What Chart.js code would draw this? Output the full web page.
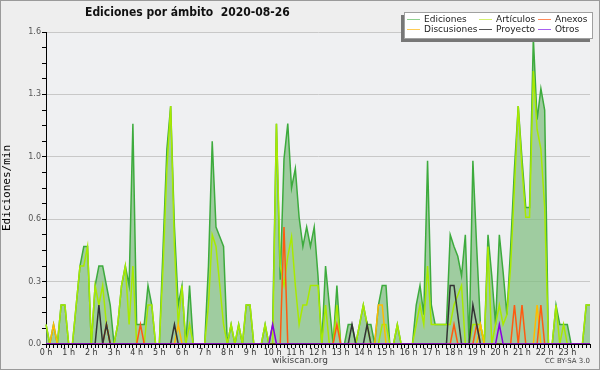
<!DOCTYPE html>
<html>
<head>
<meta charset="utf-8">
<script src="https://cdn.jsdelivr.net/npm/chart.js@4.4.1/dist/chart.umd.min.js"></script>
<style>
  body { margin: 0; background: #eeeeee; }
  #wrap { position: relative; width: 600px; height: 370px; background: #eeeeee; overflow: hidden; }
  #chart { position: absolute; left: 0; top: 0; }
  #frame { position: absolute; left: 0; top: 0; width: 600px; height: 370px; box-sizing: border-box; border: 1px solid #9a9a9a; pointer-events: none; }
  #title { position: absolute; left: 85px; top: 5px; font: bold 12px 'DejaVu Sans Condensed', 'DejaVu Sans', sans-serif; font-stretch: condensed; color: #111; white-space: pre; }
  #legend { position: absolute; left: 404px; top: 12px; width: 189px; height: 27px; box-sizing: border-box; background: #fff; border: 1px solid #a0a0a0; box-shadow: -3px 3px 0 #777; font: 9px 'DejaVu Sans', sans-serif; color: #222; }
  .item { position: absolute; height: 10px; line-height: 10px; white-space: nowrap; }
  .item i { display: inline-block; width: 13px; height: 1px; vertical-align: middle; margin-right: 4px; }
  #site { position: absolute; left: 0; width: 600px; top: 355px; text-align: center; font: 9px 'DejaVu Sans', sans-serif; color: #444; }
  #lic { position: absolute; right: 10px; top: 357px; font: 7px 'DejaVu Sans', sans-serif; color: #444; }
</style>
</head>
<body>
<div id="wrap">
  <canvas id="chart" width="600" height="370"></canvas>
  <div id="title">Ediciones por ámbito  2020-08-26</div>
  <div id="legend"></div>
  <div id="site">wikiscan.org</div>
  <div id="lic">CC BY-SA 3.0</div>
  <div id="frame"></div>
</div>
<script>
// hour labels on the x axis
const hourLabels = ['0 h', '1 h', '2 h', '3 h', '4 h', '5 h', '6 h', '7 h', '8 h', '9 h', '10 h', '11 h',
  '12 h', '13 h', '14 h', '15 h', '16 h', '17 h', '18 h', '19 h', '20 h', '21 h', '22 h', '23 h'];

// edits per minute, one value per 10 minutes (0:00 .. 24:00)
const ediciones = [
  0.1, 0, 0.1, 0, 0.2, 0.2, 0, 0, 0.2, 0.4,
  0.5, 0.5, 0, 0.3, 0.4, 0.4, 0.3, 0.2, 0, 0.1,
  0.3, 0.4, 0.3, 1.13, 0.1, 0.1, 0.1, 0.3, 0.2, 0,
  0, 0.5, 1.0, 1.22, 0.6, 0.2, 0.3, 0, 0.3, 0,
  0, 0, 0, 0.4, 1.04, 0.6, 0.55, 0.5, 0, 0.1,
  0, 0.1, 0, 0.2, 0.2, 0, 0, 0, 0.1, 0,
  0.1, 1.13, 0.33, 0.95, 1.13, 0.8, 0.9, 0.65, 0.5, 0.6,
  0.5, 0.6, 0.35, 0, 0.4, 0.2, 0, 0.3, 0, 0,
  0.1, 0.1, 0, 0.1, 0.2, 0.1, 0.1, 0, 0.2, 0.3,
  0.3, 0, 0, 0.1, 0, 0, 0, 0, 0.2, 0.3,
  0.15, 0.94, 0.2, 0.1, 0.1, 0.1, 0.1, 0.56, 0.5, 0.45,
  0.35, 0.56, 0, 0.94, 0.5, 0.1, 0, 0.56, 0.35, 0.1,
  0.56, 0.37, 0.15, 0.5, 0.9, 1.22, 0.95, 0.7, 0.7, 1.57,
  1.15, 1.31, 1.2, 0, 0, 0.2, 0.1, 0.1, 0.1, 0,
  0, 0, 0, 0.2, 0.2
];
const articulos = [
  0.1, 0, 0, 0, 0.2, 0.2, 0, 0, 0.2, 0.4,
  0.4, 0.5, 0, 0.3, 0.2, 0.3, 0.1, 0, 0, 0.1,
  0.3, 0.4, 0.1, 0.4, 0, 0, 0, 0.2, 0.2, 0,
  0, 0.4, 0.9, 1.22, 0.5, 0.1, 0.3, 0, 0.1, 0,
  0, 0, 0, 0.2, 0.56, 0.5, 0.3, 0.1, 0, 0.1,
  0, 0.1, 0, 0.2, 0.2, 0, 0, 0, 0.1, 0,
  0, 1.13, 0.4, 0.3, 0.45, 0.55, 0.3, 0.1, 0.2, 0.2,
  0.3, 0.3, 0.3, 0, 0.2, 0, 0, 0.2, 0, 0,
  0, 0, 0, 0.1, 0.2, 0.1, 0, 0, 0, 0.1,
  0.1, 0, 0, 0.1, 0, 0, 0, 0, 0.1, 0.2,
  0.1, 0.4, 0.1, 0.1, 0.1, 0.1, 0.1, 0.1, 0.2, 0.25,
  0.3, 0, 0, 0.1, 0.1, 0.1, 0, 0.5, 0, 0.1,
  0.2, 0.1, 0.15, 0.4, 0.8, 1.22, 0.9, 0.65, 0.65, 1.4,
  1.1, 1.0, 0.7, 0, 0, 0.2, 0, 0.1, 0, 0,
  0, 0, 0, 0.2, 0.2
];
const discusiones = [
  0, 0, 0.1, 0, 0, 0, 0, 0, 0, 0,
  0, 0, 0, 0, 0, 0, 0, 0, 0, 0,
  0, 0, 0, 0, 0, 0, 0, 0, 0, 0,
  0, 0, 0, 0, 0, 0.1, 0, 0, 0, 0,
  0, 0, 0, 0, 0, 0, 0, 0, 0, 0,
  0, 0, 0, 0, 0, 0, 0, 0, 0, 0,
  0, 0, 0, 0, 0, 0, 0, 0, 0, 0,
  0, 0, 0, 0, 0, 0, 0, 0, 0, 0,
  0, 0, 0, 0, 0, 0, 0, 0, 0.2, 0.2,
  0, 0, 0, 0, 0, 0, 0, 0, 0, 0,
  0, 0, 0, 0, 0, 0, 0, 0, 0, 0,
  0, 0, 0, 0, 0, 0.1, 0, 0, 0, 0,
  0, 0, 0, 0, 0, 0, 0, 0, 0, 0,
  0.2, 0, 0, 0, 0, 0, 0, 0, 0, 0,
  0, 0, 0, 0, 0
];
const anexos = [
  0, 0, 0, 0, 0, 0, 0, 0, 0, 0,
  0, 0, 0, 0, 0, 0, 0.1, 0, 0, 0,
  0, 0, 0, 0, 0, 0.1, 0, 0, 0, 0,
  0, 0, 0, 0, 0, 0, 0, 0, 0, 0,
  0, 0, 0, 0, 0, 0, 0, 0, 0, 0,
  0, 0, 0, 0, 0, 0, 0, 0, 0, 0,
  0, 0, 0, 0.6, 0, 0, 0, 0, 0, 0,
  0, 0, 0, 0, 0, 0, 0, 0.1, 0, 0,
  0, 0, 0, 0, 0, 0, 0, 0, 0, 0,
  0, 0, 0, 0, 0, 0, 0, 0, 0, 0,
  0, 0, 0, 0, 0, 0, 0, 0, 0.1, 0,
  0, 0, 0, 0, 0.1, 0, 0, 0, 0, 0,
  0, 0, 0, 0, 0.2, 0, 0.2, 0, 0, 0,
  0, 0.2, 0, 0, 0, 0, 0, 0, 0, 0,
  0, 0, 0, 0, 0
];
const proyecto = [
  0, 0, 0, 0, 0, 0, 0, 0, 0, 0,
  0, 0, 0, 0, 0.2, 0, 0.1, 0, 0, 0,
  0, 0, 0, 0, 0, 0, 0, 0, 0, 0,
  0, 0, 0, 0, 0.1, 0, 0, 0, 0, 0,
  0, 0, 0, 0, 0, 0, 0, 0, 0, 0,
  0, 0, 0, 0, 0, 0, 0, 0, 0, 0,
  0, 0, 0, 0, 0, 0, 0, 0, 0, 0,
  0, 0, 0, 0, 0, 0, 0, 0, 0, 0,
  0, 0.1, 0, 0, 0, 0.1, 0, 0, 0, 0,
  0, 0, 0, 0, 0, 0, 0, 0, 0, 0,
  0, 0, 0, 0, 0, 0, 0, 0.3, 0.3, 0.15,
  0, 0, 0, 0.2, 0.1, 0, 0, 0, 0, 0,
  0, 0, 0, 0, 0, 0, 0, 0, 0, 0,
  0, 0, 0, 0, 0, 0, 0, 0, 0, 0,
  0, 0, 0, 0, 0
];
const otros = [
  0, 0, 0, 0, 0, 0, 0, 0, 0, 0,
  0, 0, 0, 0, 0, 0, 0, 0, 0, 0,
  0, 0, 0, 0, 0, 0, 0, 0, 0, 0,
  0, 0, 0, 0, 0, 0, 0, 0, 0, 0,
  0, 0, 0, 0, 0, 0, 0, 0, 0, 0,
  0, 0, 0, 0, 0, 0, 0, 0, 0, 0,
  0.1, 0, 0, 0, 0, 0, 0, 0, 0, 0,
  0, 0, 0, 0, 0, 0, 0, 0, 0, 0,
  0, 0, 0, 0, 0, 0, 0, 0, 0, 0,
  0, 0, 0, 0, 0, 0, 0, 0, 0, 0,
  0, 0, 0, 0, 0, 0, 0, 0, 0, 0,
  0, 0, 0, 0, 0, 0, 0, 0, 0, 0,
  0.1, 0, 0, 0, 0, 0, 0, 0, 0, 0,
  0, 0, 0, 0, 0, 0, 0, 0, 0, 0,
  0, 0, 0, 0, 0
];

// one category per 10 minute slot
const slots = [];
for (let i = 0; i < ediciones.length; i++) {
  slots.push(Math.floor(i / 6) + ':' + String((i % 6) * 10).padStart(2, '0'));
}

// legend entries, laid out column by column like the reference box
const legendItems = [
  { label: 'Ediciones', color: '#8fd08f', col: 0, row: 0 },
  { label: 'Discusiones', color: '#ffcc55', col: 0, row: 1 },
  { label: 'Artículos', color: '#d4f070', col: 1, row: 0 },
  { label: 'Proyecto', color: '#555555', col: 1, row: 1 },
  { label: 'Anexos', color: '#ff8a5a', col: 2, row: 0 },
  { label: 'Otros', color: '#a860f0', col: 2, row: 1 }
];
const legendCols = [2, 74, 133];

const legendEl = document.getElementById('legend');
legendItems.forEach(it => {
  const d = document.createElement('div');
  d.className = 'item';
  d.style.left = legendCols[it.col] + 'px';
  d.style.top = (1 + it.row * 10) + 'px';
  d.innerHTML = '<i style="background:' + it.color + '"></i>' + it.label;
  legendEl.appendChild(d);
});

// paint the plot area background
const plotBackground = {
  id: 'plotBackground',
  beforeDraw(chart) {
    const a = chart.chartArea;
    const c = chart.ctx;
    c.save();
    c.fillStyle = '#eff0f2';
    c.fillRect(a.left, a.top, a.right - a.left, a.bottom - a.top);
    c.restore();
  }
};

function line(label, data, color, order, extra) {
  return Object.assign({
    label: label,
    data: data,
    borderColor: color,
    borderWidth: 1.5,
    pointRadius: 0,
    tension: 0,
    fill: false,
    order: order
  }, extra || {});
}

const isMajor = v => Math.round(v / 0.08) % 4 === 0;
const tickFont = { family: "'DejaVu Sans'", size: 8 };

new Chart(document.getElementById('chart'), {
  type: 'line',
  data: {
    labels: slots,
    datasets: [
      line('Ediciones', ediciones, '#3dab3d', 6, { fill: 'origin', backgroundColor: 'rgba(128,190,128,0.72)' }),
      line('Artículos', articulos, '#a8ea00', 5),
      line('Discusiones', discusiones, '#ffbb00', 4),
      line('Anexos', anexos, '#ff5a10', 3),
      line('Proyecto', proyecto, '#333333', 2),
      line('Otros', otros, '#8a00e0', 1)
    ]
  },
  options: {
    responsive: false,
    animation: false,
    layout: { padding: { left: 0, top: 32, right: 10, bottom: 0 } },
    scales: {
      x: {
        z: 1,
        offset: false,
        grid: {
          drawOnChartArea: false,
          tickLength: 4,
          tickColor: '#000'
        },
        border: { color: '#000', width: 1 },
        ticks: {
          autoSkip: false,
          maxRotation: 0,
          padding: 0,
          color: '#333',
          font: tickFont,
          callback: (v, i) => (i % 6 === 0 && hourLabels[i / 6]) ? hourLabels[i / 6] : ''
        },
        afterFit: s => { s.height = 26; }
      },
      y: {
        min: 0,
        max: 1.6,
        grid: {
          color: ctx => (ctx.tick && isMajor(ctx.tick.value)) ? '#c8c8c8' : 'rgba(0,0,0,0)',
          tickColor: '#000',
          tickLength: 4
        },
        border: { color: '#000', width: 1 },
        ticks: {
          stepSize: 0.08,
          padding: 1,
          color: '#555',
          font: tickFont,
          callback: v => isMajor(v) ? v.toFixed(1) : ''
        },
        title: {
          display: true,
          text: 'Ediciones/min',
          color: '#000',
          font: { family: "'DejaVu Sans Mono'", size: 11 },
          padding: { top: 1, bottom: 0 }
        },
        afterFit: s => { s.width = 46; }
      }
    },
    plugins: {
      legend: { display: false },
      tooltip: { enabled: false }
    }
  },
  plugins: [plotBackground]
});
</script>
</body>
</html>
